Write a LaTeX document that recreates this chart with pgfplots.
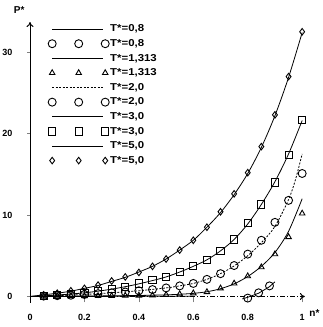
\documentclass[border=0pt]{standalone}
\usepackage{pgfplots}
\pgfplotsset{compat=1.18}
\usepackage{fontspec}
\setmainfont{Liberation Sans}
\newfontfamily\legfont{Liberation Sans}[FakeStretch=1.14]
\usetikzlibrary{arrows.meta}
\newcommand{\lt}[1]{\makebox[56pt][l]{#1}}
\pgfplotsset{
  linelegend/.style={legend image code/.code={\path[draw=none,fill=none] (-4pt,-4pt) rectangle (57pt,4pt); \draw[##1] (0pt,0pt) -- (51pt,0pt);}},
  marklegend/.style={legend image code/.code={\path[draw=none,fill=none] (-4pt,-4pt) rectangle (57pt,4pt); \draw[##1] plot coordinates {(0pt,0pt) (26.5pt,0pt) (53pt,0pt)};}},
}
\begin{document}
\begin{tikzpicture}
\begin{axis}[
  at={(0,0)}, anchor=south west,
  scale only axis, width=274.7pt, height=280.8pt,
  xmin=0, xmax=1.01, ymin=-0.8, ymax=33.7,
  axis lines=middle,
  axis line style={line width=1pt},
  x axis line style={-{To[length=5pt,width=7pt]}, dash pattern=on 5pt off 2pt on 1pt off 2pt},
  y axis line style={-{To[length=5pt,width=7pt]}},
  xtick={0,0.2,0.4,0.6,0.8,1}, xticklabels={0,0.2,0.4,0.6,0.8,1},
  ytick={0,10,20,30}, yticklabels={0,10,20,30},
  hide obscured x ticks=false, hide obscured y ticks=false,
  tick align=outside, major tick length=3pt,
  xtick style={/pgfplots/major tick length=6pt, line width=0.7pt},
  ytick style={line width=0.6pt},
  tick label style={font=\bfseries\fontsize{9}{9}\selectfont},
  xticklabel style={yshift=-11pt},
  yticklabel style={xshift=-11pt},
  clip=false,
  every axis plot/.append style={black, line width=0.8pt},
  legend cell align=left,
  legend style={draw=none, fill=none, inner sep=0pt, at={(axis cs:0.066,33.75)}, anchor=north west,
    font=\legfont\bfseries\fontsize{10}{10}\selectfont, row sep=0pt, column sep=1pt,
    nodes={inner xsep=0pt, inner ysep=0pt, minimum height=14.6pt}},
]
% T*=0.8 line
\addplot[linelegend, unbounded coords=jump] coordinates {
(0,0) (0.2,0.01) (0.4,0.02) (0.6,0.03) (0.7,nan) (0.78,-0.3) (0.8,-0.1) (0.84,0.4) (0.88,1.2) (0.9,1.8)};
\addlegendentry{\lt{T*=0,8}}
\addplot[marklegend, only marks, mark=o, mark size=4pt, mark options={line width=0.9pt}] coordinates {
(0.8,-0.2) (0.84,0.45) (0.88,1.3)};
\addlegendentry{\lt{T*=0,8}}
% T*=1.313 line
\addplot[linelegend, smooth] coordinates {
(0,0) (0.1,0.02) (0.2,0.05) (0.3,0.08) (0.4,0.12) (0.5,0.2) (0.55,0.27) (0.6,0.38) (0.65,0.58) (0.7,0.95) (0.75,1.55) (0.8,2.45) (0.85,3.7) (0.9,5.4) (0.95,8.0) (1.0,12.0)};
\addlegendentry{\lt{T*=1,313}}
\addplot[marklegend, only marks, mark=triangle, mark size=3.2pt, mark options={line width=0.9pt}] coordinates {
(0.05,0.0) (0.1,0.02) (0.15,0.04) (0.2,0.05) (0.25,0.07) (0.3,0.08) (0.35,0.1) (0.4,0.12) (0.45,0.15) (0.5,0.2) (0.55,0.28) (0.6,0.4) (0.65,0.55) (0.7,1.0) (0.75,1.6) (0.8,2.5) (0.85,3.6) (0.9,5.2) (0.95,7.3) (1.0,10.2)};
\addlegendentry{\lt{T*=1,313}}
% T*=2.0 line
\addplot[linelegend, smooth, dash pattern=on 2pt off 1.5pt] coordinates {
(0,0) (0.1,0.1) (0.2,0.25) (0.3,0.45) (0.4,0.7) (0.5,1.05) (0.55,1.3) (0.6,1.6) (0.65,2.1) (0.7,2.8) (0.75,3.75) (0.8,5.0) (0.85,6.6) (0.9,8.6) (0.95,11.9) (0.975,14.3) (1.0,17.5)};
\addlegendentry{\lt{T*=2,0}}
\addplot[marklegend, only marks, mark=o, mark size=4pt, mark options={line width=0.9pt}] coordinates {
(0.05,0.05) (0.1,0.1) (0.15,0.15) (0.2,0.25) (0.25,0.35) (0.3,0.45) (0.35,0.55) (0.4,0.7) (0.45,0.85) (0.5,1.05) (0.55,1.3) (0.6,1.6) (0.65,2.1) (0.7,2.8) (0.75,3.8) (0.8,5.2) (0.85,6.9) (0.9,9.1) (0.95,11.8) (1.0,15.1)};
\addlegendentry{\lt{T*=2,0}}
% T*=3.0 line
\addplot[linelegend, smooth] coordinates {
(0,0) (0.05,0.08) (0.1,0.18) (0.15,0.3) (0.2,0.45) (0.25,0.65) (0.3,0.9) (0.35,1.2) (0.4,1.55) (0.45,1.95) (0.5,2.4) (0.55,3.0) (0.6,3.7) (0.65,4.5) (0.7,5.6) (0.75,7.0) (0.8,8.9) (0.85,11.3) (0.9,14.1) (0.95,17.5) (1.0,21.6)};
\addlegendentry{\lt{T*=3,0}}
\addplot[marklegend, only marks, mark=square, mark size=3.6pt, mark options={line width=0.9pt}] coordinates {
(0.05,0.08) (0.1,0.18) (0.15,0.3) (0.2,0.45) (0.25,0.65) (0.3,0.9) (0.35,1.2) (0.4,1.6) (0.45,2.0) (0.5,2.4) (0.55,3.0) (0.6,3.7) (0.65,4.5) (0.7,5.6) (0.75,7.0) (0.8,9.0) (0.85,11.3) (0.9,14.0) (0.95,17.4) (1.0,21.7)};
\addlegendentry{\lt{T*=3,0}}
% T*=5.0 line
\addplot[linelegend, smooth] coordinates {
(0,0) (0.05,0.2) (0.1,0.4) (0.15,0.65) (0.2,1.0) (0.25,1.35) (0.3,1.85) (0.35,2.35) (0.4,3.0) (0.45,3.7) (0.5,4.6) (0.55,5.7) (0.6,6.9) (0.65,8.5) (0.7,10.3) (0.75,12.5) (0.8,15.1) (0.85,18.3) (0.9,22.2) (0.95,26.9) (1.0,32.4)};
\addlegendentry{\lt{T*=5,0}}
\addplot[marklegend, only marks, mark=diamond, mark size=3.3pt, mark options={line width=0.9pt}] coordinates {
(0.05,0.2) (0.1,0.4) (0.15,0.7) (0.2,1.0) (0.25,1.4) (0.3,1.9) (0.35,2.4) (0.4,2.95) (0.45,3.7) (0.5,4.6) (0.55,5.7) (0.6,6.9) (0.65,8.5) (0.7,10.4) (0.75,12.6) (0.8,15.2) (0.85,18.4) (0.9,22.3) (0.95,27.0) (1.0,32.5)};
\addlegendentry{\lt{T*=5,0}}
\node[anchor=center, font=\bfseries\fontsize{10}{10}\selectfont] at (axis cs:-0.04,35.2) {P*};
\node[anchor=center, font=\bfseries\fontsize{10}{10}\selectfont] at (axis cs:1.045,-2.0) {n*};
\end{axis}
\pgfresetboundingbox
\path[use as bounding box] (-30pt,-24pt) rectangle (292pt,302.8pt);
\end{tikzpicture}
\end{document}
